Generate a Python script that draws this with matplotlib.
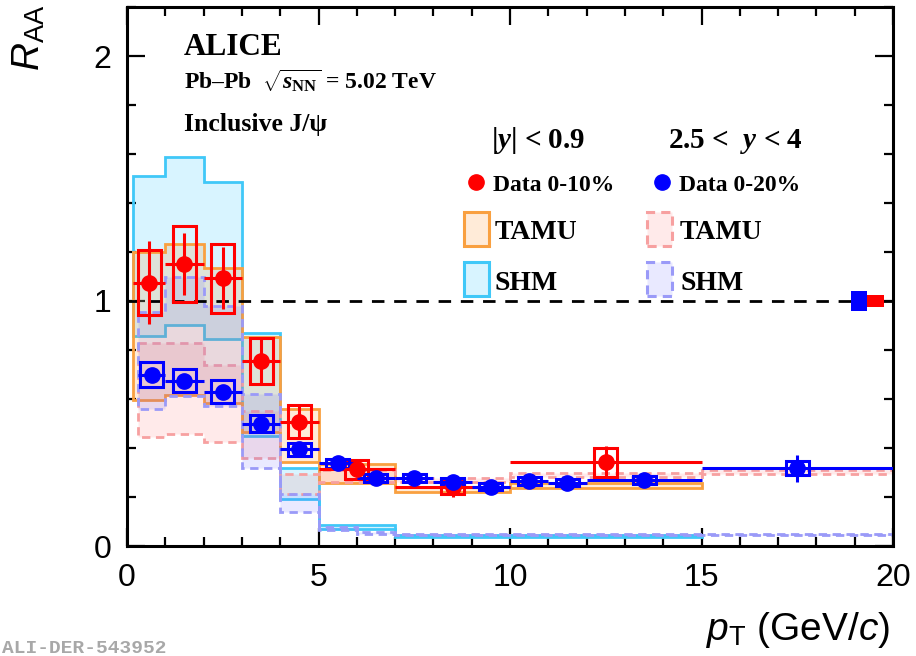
import matplotlib
matplotlib.use("Agg")
import matplotlib.pyplot as plt
from matplotlib.patches import Rectangle
from matplotlib.lines import Line2D
import numpy as np

plt.rcParams['mathtext.fontset'] = 'custom'
plt.rcParams['mathtext.rm'] = 'Liberation Serif:bold'
plt.rcParams['mathtext.bf'] = 'Liberation Serif:bold'
plt.rcParams['mathtext.it'] = 'Liberation Serif:italic:bold'
plt.rcParams['mathtext.sf'] = 'Liberation Sans'
plt.rcParams['mathtext.cal'] = 'Liberation Sans:italic'

# ---------------- data ----------------
# ALICE |y|<0.9, 0-10%
mid_pt = [0.575, 1.5, 2.5, 3.5, 4.5, 6.0, 8.5, 12.5]
mid_lo = [0.15, 1, 2, 3, 4, 5, 7, 10]
mid_hi = [1, 2, 3, 4, 5, 7, 10, 15]
mid_raa = [1.075, 1.151, 1.093, 0.755, 0.507, 0.313, 0.242, 0.342]
mid_stat = [0.17, 0.125, 0.126, 0.09, 0.066, 0.03, 0.043, 0.068]
mid_syst = [0.133, 0.155, 0.14, 0.094, 0.067, 0.04, 0.028, 0.06]

# ALICE 2.5<y<4, 0-20%
fwd_pt = [0.65, 1.5, 2.5, 3.5, 4.5, 5.5, 6.5, 7.5, 8.5, 9.5, 10.5, 11.5, 13.5, 17.5]
fwd_lo = [0.3, 1, 2, 3, 4, 5, 6, 7, 8, 9, 10, 11, 12, 15]
fwd_hi = [1, 2, 3, 4, 5, 6, 7, 8, 9, 10, 11, 12, 15, 20]
fwd_raa = [0.70, 0.675, 0.63, 0.50, 0.395, 0.337, 0.279, 0.279, 0.262, 0.242, 0.265, 0.258, 0.269, 0.317]
fwd_stat = [0.01, 0.01, 0.01, 0.01, 0.01, 0.01, 0.01, 0.01, 0.01, 0.01, 0.012, 0.013, 0.015, 0.054]
fwd_syst = [0.05, 0.047, 0.047, 0.033, 0.027, 0.02, 0.016, 0.016, 0.015, 0.014, 0.015, 0.015, 0.016, 0.028]

# Models, midrapidity
tamu_mid_edges = [0.15, 1, 2, 3, 4, 5, 7, 10, 15]
tamu_mid_low = [0.596, 0.615, 0.582, 0.465, 0.344, 0.256, 0.222, 0.235]
tamu_mid_high = [1.201, 1.231, 1.136, 0.854, 0.558, 0.335, 0.242, 0.256]
shm_mid_edges = [0.15, 1, 2, 3, 4, 5, 7, 15]
shm_mid_low = [0.857, 0.902, 0.843, 0.45, 0.19, 0.07, 0.036]
shm_mid_high = [1.51, 1.587, 1.484, 0.871, 0.317, 0.085, 0.045]
# Models, forward
tamu_fwd_edges = [0.3, 1, 2, 3, 4, 5, 7, 10, 15, 20]
tamu_fwd_low = [0.446, 0.456, 0.426, 0.358, 0.212, 0.262, 0.262, 0.283, 0.294]
tamu_fwd_high = [0.827, 0.827, 0.739, 0.552, 0.295, 0.31, 0.278, 0.297, 0.31]
shm_fwd_edges = [0.3, 1, 2, 3, 4, 5, 6, 7, 20]
shm_fwd_low = [0.558, 0.612, 0.571, 0.317, 0.14, 0.066, 0.05, 0.045]
shm_fwd_high = [0.956, 1.10, 0.98, 0.62, 0.212, 0.078, 0.056, 0.05]

# global uncertainties (centred at 1)
glob_mid = 0.025
glob_fwd = 0.04

RED = '#ff0000'
BLUE = '#0000ff'
C_TAMU_MID = '#f9a040'
C_SHM_MID = '#40c8f8'
C_TAMU_FWD = '#f7a0a0'
C_SHM_FWD = '#9a9af8'
F_TAMU_MID = (1.0, 0.55, 0.1, 0.17)
F_SHM_MID = (0.1, 0.75, 1.0, 0.17)
F_TAMU_FWD = (1.0, 0.35, 0.35, 0.12)
F_SHM_FWD = (0.35, 0.35, 1.0, 0.13)

W, H = 916, 656
fig = plt.figure(figsize=(W / 100, H / 100), dpi=100)
AX_L, AX_R, AX_B, AX_T = 127, 893, 546, 7
ax = fig.add_axes([AX_L / W, 1 - AX_B / H, (AX_R - AX_L) / W, (AX_B - AX_T) / H])
ax.set_xlim(0, 20)
ax.set_ylim(0, 2.2)


def band(edges, low, high, face, edge, ls):
    xs, ys = [], []
    for i in range(len(low)):
        xs += [edges[i], edges[i + 1]]
        ys += [high[i], high[i]]
    for i in reversed(range(len(low))):
        xs += [edges[i + 1], edges[i]]
        ys += [low[i], low[i]]
    ax.fill(xs, ys, facecolor=face, edgecolor=edge, linestyle=ls, lw=2.0, zorder=2)


band(shm_mid_edges, shm_mid_low, shm_mid_high, F_SHM_MID, C_SHM_MID, '-')
band(tamu_mid_edges, tamu_mid_low, tamu_mid_high, F_TAMU_MID, C_TAMU_MID, '-')
band(tamu_fwd_edges, tamu_fwd_low, tamu_fwd_high, F_TAMU_FWD, C_TAMU_FWD, (0, (3, 2)))
band(shm_fwd_edges, shm_fwd_low, shm_fwd_high, F_SHM_FWD, C_SHM_FWD, (0, (3, 2)))

ax.axhline(1.0, color='black', lw=2.0, ls=(0, (4.5, 3.5)), zorder=3)

BOXW = 0.3


def data(pt, lo, hi, raa, stat, syst, color):
    pt = np.array(pt)
    xerr = [pt - np.array(lo), np.array(hi) - pt]
    for x, y, s in zip(pt, raa, syst):
        ax.add_patch(Rectangle((x - BOXW, y - s), 2 * BOXW, 2 * s, fill=False,
                               edgecolor=color, lw=2.2, zorder=4))
    ax.errorbar(pt, raa, xerr=xerr, yerr=stat, fmt='o', color=color, ms=11,
                elinewidth=2.2, capsize=0, zorder=5)


data(mid_pt, mid_lo, mid_hi, mid_raa, mid_stat, mid_syst, RED)
data(fwd_pt, fwd_lo, fwd_hi, fwd_raa, fwd_stat, fwd_syst, BLUE)

ax.add_patch(Rectangle((18.9, 1 - glob_fwd), 0.42, 2 * glob_fwd, color=BLUE, lw=0, zorder=6))
ax.add_patch(Rectangle((19.32, 1 - glob_mid), 0.45, 2 * glob_mid, color=RED, lw=0, zorder=6))

# axes style
ax.set_xticks([0, 5, 10, 15, 20])
ax.set_yticks([0, 1, 2])
ax.xaxis.set_minor_locator(matplotlib.ticker.MultipleLocator(1))
ax.yaxis.set_minor_locator(matplotlib.ticker.MultipleLocator(0.2))
ax.tick_params(which='both', direction='in', top=True, right=True, width=1.6)
ax.tick_params(which='major', length=13)
ax.tick_params(which='minor', length=6.5)
ax.tick_params(axis='x', pad=12, labelsize=23)
ax.tick_params(axis='y', pad=11, labelsize=23)
for lab in ax.get_xticklabels() + ax.get_yticklabels():
    lab.set_fontfamily('Liberation Sans')
for s in ax.spines.values():
    s.set_linewidth(2.2)


def fx(px):
    return px / W


def fy(py):
    return 1 - py / H


def axp(px, py):
    return ((px - AX_L) / (AX_R - AX_L), (AX_B - py) / (AX_B - AX_T))


# axis titles
fig.text(fx(28), fy(4), r'$\mathcal{R}_{\mathsf{AA}}$', rotation=90, ha='center', va='top', fontsize=28)
fig.text(fx(890), fy(640), r'$\mathcal{p}_{\mathsf{T}}\ \mathsf{(GeV/}\mathcal{c}\mathsf{)}$',
         ha='right', va='baseline', fontsize=28)

serif = dict(family='Liberation Serif', weight='bold', va='baseline')
fig.text(fx(184), fy(55), 'ALICE', fontsize=22.5, **serif)
fig.text(fx(184), fy(89), r'Pb–Pb  $\sqrt{s_{\mathrm{NN}}}$ = 5.02 TeV', fontsize=17, **serif)
fig.text(fx(184), fy(131), 'Inclusive J/ψ', fontsize=18.5, **serif)

fig.text(fx(538), fy(148), r'|$y$| < 0.9', ha='center', fontsize=21, **serif)
fig.text(fx(735), fy(148), r'2.5 <  $y$ < 4', ha='center', fontsize=21, **serif)

# legend
for (px, col) in [(476, RED), (662, BLUE)]:
    x, y = axp(px, 182)
    ax.add_line(Line2D([x], [y], marker='o', color=col, ms=11, transform=ax.transAxes, clip_on=False, zorder=7))
fig.text(fx(493), fy(191), 'Data 0-10%', fontsize=17, **serif)
fig.text(fx(679), fy(191), 'Data 0-20%', fontsize=17, **serif)

legboxes = [
    (464, 212, F_TAMU_MID, C_TAMU_MID, '-', 'TAMU', 495, 239),
    (647, 212, F_TAMU_FWD, C_TAMU_FWD, (0, (3, 2)), 'TAMU', 680, 239),
    (464, 262, F_SHM_MID, C_SHM_MID, '-', 'SHM', 495, 290),
    (647, 262, F_SHM_FWD, C_SHM_FWD, (0, (3, 2)), 'SHM', 680, 290),
]
for bx, by, face, edge, ls, lab, tx, ty in legboxes:
    x0, y1 = axp(bx, by)
    x1, y0 = axp(bx + 25, by + 34)
    ax.add_patch(Rectangle((x0, y0), x1 - x0, y1 - y0, transform=ax.transAxes, facecolor=face,
                           edgecolor=edge, linestyle=ls, lw=2.2, clip_on=False, zorder=7))
    fig.text(fx(tx), fy(ty), lab, fontsize=20, **serif)

fig.text(fx(2), fy(653), 'ALI-DER-543952', family='Liberation Mono', weight='bold',
         color='#a8a8a8', fontsize=14, ha='left', va='baseline')

fig.savefig('out.png', dpi=100)
